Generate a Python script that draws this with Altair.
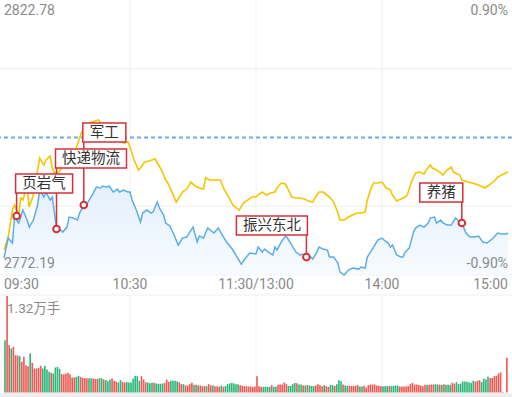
import altair as alt
import pandas as pd

# ---------------- data ----------------
price_top = 2822.78
price_bottom = 2772.19
pct_top_label = "0.90%"
pct_bottom_label = "-0.90%"
time_ticks = [0, 60, 120, 180, 240]
time_labels = ["09:30", "10:30", "11:30/13:00", "14:00", "15:00"]
vol_max = 13200
vol_max_label = "1.32万手"

blue_minutes = [
    0, 2, 4, 5, 7, 9, 11, 12, 14, 16,
    17, 19, 20, 22, 23, 25, 27, 28, 30, 31,
    33, 35, 36, 38, 40, 42, 44, 46, 47, 49,
    50, 52, 54, 55, 57, 59, 60, 61, 63, 65,
    66, 68, 70, 71, 73, 74, 76, 77, 79, 81,
    83, 85, 87, 90, 92, 93, 95, 97, 100, 102,
    104, 106, 109, 111, 113, 115, 117, 120, 121, 123,
    124, 126, 128, 129, 130, 132, 134, 135, 137, 139,
    141, 142, 144, 146, 147, 149, 150, 152, 154, 155,
    157, 159, 160, 162, 164, 166, 169, 170, 172, 173,
    176, 178, 180, 181, 183, 184, 185, 187, 189, 190,
    191, 193, 195, 196, 198, 200, 202, 203, 205, 206,
    208, 209, 211, 213, 215, 216, 218, 220, 222, 224,
    226, 228, 230, 233, 235, 237, 239, 240,
]
blue_prices = [
    2775.31, 2778.99, 2778.07, 2782.85, 2781.75, 2784.14, 2782.30, 2781.01, 2782.30, 2785.06,
    2787.82, 2786.53, 2787.45, 2785.98, 2786.53, 2780.83, 2780.46, 2780.09, 2781.01, 2782.85,
    2782.67, 2782.30, 2783.59, 2785.06, 2785.61, 2786.90, 2788.37, 2788.19, 2788.56, 2788.37,
    2788.56, 2787.45, 2788.00, 2787.45, 2787.82, 2787.45, 2787.45, 2785.98, 2784.14, 2781.93,
    2783.59, 2784.14, 2783.59, 2783.77, 2785.61, 2784.51, 2783.22, 2781.75, 2781.20, 2779.54,
    2777.70, 2778.99, 2779.17, 2781.01, 2778.25, 2779.36, 2778.99, 2780.83, 2779.91, 2780.83,
    2779.54, 2778.25, 2776.78, 2775.49, 2774.20, 2775.31, 2776.23, 2776.05, 2777.33, 2776.41,
    2776.96, 2776.41, 2775.86, 2777.33, 2776.78, 2778.25, 2779.36, 2778.99, 2777.70, 2776.41,
    2775.86, 2776.05, 2775.49, 2775.49, 2775.12, 2776.41, 2777.33, 2776.96, 2776.78, 2775.49,
    2775.49, 2774.39, 2772.73, 2772.19, 2773.10, 2773.47, 2773.28, 2773.65, 2773.47, 2775.49,
    2777.33, 2778.62, 2778.99, 2778.62, 2778.07, 2777.33, 2777.70, 2775.86, 2775.49, 2775.49,
    2776.41, 2777.15, 2780.09, 2780.83, 2781.38, 2781.01, 2781.75, 2782.67, 2782.85, 2781.75,
    2782.30, 2781.75, 2781.38, 2781.38, 2782.67, 2782.30, 2781.75, 2779.91, 2779.17, 2779.17,
    2779.36, 2778.25, 2778.07, 2778.99, 2779.91, 2779.73, 2779.73, 2779.91,
]

yellow_minutes = [
    0, 2, 4, 5, 7, 8, 9, 11, 12, 14,
    16, 17, 19, 20, 22, 23, 24, 26, 28, 30,
    32, 34, 37, 39, 42, 45, 47, 49, 52, 55,
    57, 59, 60, 62, 64, 65, 67, 69, 72, 73,
    75, 77, 78, 80, 82, 83, 85, 87, 89, 91,
    93, 95, 96, 98, 99, 103, 105, 107, 109, 112,
    114, 116, 118, 120, 121, 123, 125, 127, 129, 130,
    132, 134, 135, 137, 139, 141, 143, 145, 147, 149,
    150, 152, 155, 157, 159, 160, 162, 164, 166, 168,
    170, 172, 173, 175, 176, 178, 180, 181, 182, 184,
    185, 187, 188, 191, 192, 194, 196, 198, 200, 201,
    203, 204, 206, 208, 209, 211, 213, 214, 217, 218,
    221, 223, 226, 229, 231, 234, 235, 237, 240,
]
yellow_prices = [
    2776.78, 2779.17, 2784.14, 2785.06, 2783.22, 2786.35, 2785.98, 2788.56, 2784.69, 2786.90,
    2791.50, 2793.71, 2792.42, 2793.34, 2794.08, 2791.87, 2790.95, 2791.13, 2792.05, 2792.97,
    2793.71, 2795.18, 2798.49, 2799.78, 2800.33, 2800.70, 2799.60, 2798.49, 2797.39, 2797.02,
    2796.47, 2796.65, 2795.73, 2793.34, 2791.50, 2791.87, 2792.97, 2793.16, 2793.52, 2792.79,
    2791.50, 2789.66, 2789.11, 2787.45, 2785.61, 2786.16, 2787.45, 2788.00, 2789.29, 2788.56,
    2788.19, 2788.00, 2790.03, 2789.66, 2789.66, 2789.66, 2787.82, 2786.53, 2785.06, 2784.14,
    2785.43, 2785.98, 2786.53, 2786.53, 2786.90, 2787.45, 2786.90, 2787.27, 2787.45, 2788.19,
    2789.11, 2788.92, 2788.19, 2786.53, 2786.35, 2786.35, 2786.16, 2785.80, 2785.61, 2786.90,
    2787.45, 2787.45, 2786.53, 2785.61, 2783.59, 2782.30, 2782.30, 2782.85, 2783.22, 2783.59,
    2783.59, 2783.77, 2785.98, 2788.37, 2789.11, 2789.11, 2789.29, 2788.74, 2788.19, 2787.82,
    2786.90, 2785.80, 2785.98, 2786.53, 2786.90, 2789.29, 2790.95, 2791.13, 2790.76, 2791.50,
    2792.42, 2791.87, 2791.50, 2790.95, 2790.58, 2791.50, 2792.05, 2791.13, 2790.58, 2789.66,
    2789.29, 2789.11, 2788.74, 2788.19, 2788.74, 2789.66, 2790.21, 2790.58, 2791.13,
]

volumes = [
    7160, 13200, 6475, 6020, 6250, 5100, 5060, 4970, 4200, 4880,
    3740, 3600, 5340, 4060, 3280, 3280, 3370, 3650, 3280, 3650,
    3150, 2830, 2690, 2600, 3420, 3510, 3240, 2510, 2460, 2600,
    2690, 2510, 2050, 2050, 2140, 2280, 2140, 2000, 1960, 1960,
    1960, 1960, 1915, 1870, 1870, 1960, 1960, 1780, 1690, 1550,
    1780, 1915, 1600, 1500, 1370, 1690, 1460, 1370, 1410, 1370,
    1370, 1915, 2280, 2230, 1600, 2230, 1780, 1410, 1370, 1280,
    1320, 1320, 1230, 1190, 1190, 1230, 1320, 1780, 1460, 1600,
    1600, 1600, 1500, 1410, 1140, 1140, 960, 960, 1140, 1320,
    1050, 1050, 960, 960, 870, 870, 870, 1140, 960, 960,
    870, 870, 780, 960, 780, 870, 1140, 1230, 1320, 1230,
    1140, 1140, 1000, 910, 870, 870, 820, 820, 730, 820,
    2230, 870, 780, 780, 780, 780, 780, 1000, 780, 780,
    1050, 1090, 1090, 1370, 1140, 910, 910, 1140, 1320, 1280,
    1090, 1090, 960, 960, 1000, 960, 910, 870, 960, 1140,
    1000, 870, 1000, 870, 780, 1050, 1000, 910, 1140, 1690,
    1550, 1090, 960, 910, 910, 910, 910, 910, 1000, 820,
    820, 910, 680, 1000, 1090, 1090, 1090, 960, 910, 870,
    870, 870, 870, 870, 870, 910, 960, 960, 820, 820,
    820, 820, 870, 1140, 1320, 1090, 1090, 1050, 960, 870,
    1050, 1050, 1050, 1090, 1090, 1140, 1090, 1090, 1050, 1140,
    1050, 1050, 1050, 1320, 1230, 1410, 1140, 1230, 1500, 1500,
    1460, 1410, 1320, 1600, 1500, 1600, 1690, 1410, 1915, 1780,
    2140, 1960, 2000, 2230, 2280, 2600, 2740, 90, 0, 4740,
]
volume_dirs = (
    "grrgrrrgrr" "rrgrrrrrgg" "ggrggggrrr" "rrrrggrrrr" "ggrrrggrgg" "grrrggrrgg"
    "gggggrrrgg" "grggggrrrg" "gggrrgrrrr" "grgrrrgrrg" "rrrgrggggg" "ggrrrrrrrr"
    "rrrggggrgg" "rrrrrggggr" "ggrgrgggrr" "rrgrrggrgg" "grggrrrrrg" "grrrrrrrrr"
    "gggrggggrr" "rrrrrrrrrr" "rgrrrggrgr" "gggrrggggg" "ggggrrrggg" "grrrrrrggr"
)

ann_labels = ["页岩气", "快递物流", "军工", "振兴东北", "养猪"]
ann_minutes = [6, 25, 38, 144, 218]
ann_prices = [2783.04, 2780.65, 2785.06, 2775.49, 2781.75]

assert len(blue_minutes) == len(blue_prices)
assert len(yellow_minutes) == len(yellow_prices)
assert len(volumes) == len(volume_dirs)

# ---------------- layout / style ----------------
W, H = 512, 397
X0, PPM = 4.0, 2.1
PANEL_H = 275.0
SEP_Y = 295
VOL_TOP, VOL_BOT = 296.0, 392.5
STRIP_Y = 393

ann_side = ["right", "right", "right", "left", "left"]
ann_rise = [23, 61, 63, 22, 21]
BOX_H = 19

RED_ANN = "#d6303a"
BLUE = "#5aaee8"
YELLOW = "#f3c600"
DASH = "#73a9ea"
GRID = "#efefef"
LABEL = "#8a8a8a"
VRED = "#ee5b55"
VGREEN = "#2db679"
FONT = "Roboto, 'Noto Sans CJK SC', sans-serif"
CJK = "'Noto Sans CJK SC', sans-serif"

xs = alt.Scale(domain=[-X0 / PPM, (W - X0) / PPM], nice=False, zero=False)
pp = (price_top - price_bottom) / PANEL_H
ps = alt.Scale(domain=[price_top - H * pp, price_top], nice=False, zero=False)
vp = vol_max / (VOL_BOT - VOL_TOP)
vs = alt.Scale(domain=[-(H - VOL_BOT) * vp, vol_max + VOL_TOP * vp], nice=False, zero=False)


def X(f):
    return alt.X(f, type="quantitative", scale=xs, axis=None)


def PY(f):
    return alt.Y(f, type="quantitative", scale=ps, axis=None)


def VY(f):
    return alt.Y(f, type="quantitative", scale=vs, axis=None)


one = pd.DataFrame({"a": [0]})
prev_close = (price_top + price_bottom) / 2
q = (price_top - price_bottom) / 4

layers = []

# grid lines
hgrid = pd.DataFrame({"p": [price_top - q, price_top - 3 * q, price_bottom]})
layers.append(alt.Chart(hgrid).mark_rule(color=GRID, strokeWidth=1).encode(y=PY("p")))
layers.append(alt.Chart(one).mark_rule(color=GRID, strokeWidth=1).encode(y=alt.value(SEP_Y)))
vgrid = pd.DataFrame({"t": time_ticks[1:-1]})
layers.append(alt.Chart(vgrid).mark_rule(color=GRID, strokeWidth=1).encode(
    x=X("t"), y=alt.value(0), y2=alt.value(PANEL_H)))
layers.append(alt.Chart(vgrid).mark_rule(color=GRID, strokeWidth=1).encode(
    x=X("t"), y=alt.value(SEP_Y), y2=alt.value(STRIP_Y)))

# price area + lines
blue_df = pd.DataFrame({"t": blue_minutes, "p": blue_prices, "base": price_bottom})
yellow_df = pd.DataFrame({"t": yellow_minutes, "p": yellow_prices})
grad = alt.Gradient(
    gradient="linear",
    stops=[alt.GradientStop(color="#e4f0fc", offset=0),
           alt.GradientStop(color="#f7fbff", offset=1)],
    x1=1, x2=1, y1=0, y2=1,
)
layers.append(alt.Chart(blue_df).mark_area(color=grad).encode(
    x=X("t"), y=PY("p"), y2=alt.Y2("base")))

pc_df = pd.DataFrame({"p": [prev_close]})
layers.append(alt.Chart(pc_df).mark_rule(color=DASH, strokeWidth=1.8, strokeDash=[4, 3]).encode(
    y=PY("p")))

layers.append(alt.Chart(yellow_df).mark_line(color=YELLOW, strokeWidth=1.6).encode(
    x=X("t"), y=PY("p")))
layers.append(alt.Chart(blue_df).mark_line(color=BLUE, strokeWidth=1.5).encode(
    x=X("t"), y=PY("p")))

# volume bars
vol_df = pd.DataFrame({
    "i": range(len(volumes)),
    "v": volumes,
    "d": list(volume_dirs),
})
vol_df["t0"] = vol_df["i"] + 0.08
vol_df["t1"] = vol_df["i"] + 0.86
vol_df["z"] = 0
layers.append(alt.Chart(vol_df).mark_rect().encode(
    x=X("t0"), x2=alt.X2("t1"), y=VY("v"), y2=alt.Y2("z"),
    color=alt.Color("d:N", scale=alt.Scale(domain=["r", "g"], range=[VRED, VGREEN]), legend=None),
))

# bottom strip
layers.append(alt.Chart(one).mark_rect(color="#eeeeee").encode(
    x=alt.value(0), x2=alt.value(W), y=alt.value(STRIP_Y), y2=alt.value(H)))

# axis-like labels
def label_layer(text, x_px, y_px, align, size=14):
    df = pd.DataFrame({"s": [text]})
    return alt.Chart(df).mark_text(align=align, baseline="middle", fontSize=size,
                                   font=FONT, color=LABEL).encode(
        x=alt.value(x_px), y=alt.value(y_px), text="s:N")

layers.append(label_layer(f"{price_top:.2f}", 4, 11, "left"))
layers.append(label_layer(pct_top_label, 508, 11, "right"))
layers.append(label_layer(f"{price_bottom:.2f}", 4, 264, "left"))
layers.append(label_layer(pct_bottom_label, 508, 264, "right"))
layers.append(label_layer(vol_max_label, 7, 309, "left", 13.5))

tick_df = pd.DataFrame({"t": time_ticks, "s": time_labels, "k": range(len(time_ticks))})
for cond, align in [("datum.k == 0", "left"),
                    (f"datum.k > 0 && datum.k < {len(time_ticks) - 1}", "center"),
                    (f"datum.k == {len(time_ticks) - 1}", "right")]:
    layers.append(alt.Chart(tick_df).transform_filter(cond).mark_text(
        align=align, baseline="middle", fontSize=14, font=FONT, color=LABEL).encode(
        x=X("t"), y=alt.value(285), text="s:N"))

# annotations
ann_df = pd.DataFrame({"label": ann_labels, "t": ann_minutes, "p": ann_prices})
rule_layers, point_layers, box_layers = [], [], []
for k in range(len(ann_labels)):
    row = ann_df.iloc[[k]]
    w = 14 * len(ann_labels[k]) + 15
    if ann_side[k] == "right":
        dx0, dx1 = -1, w - 1
    else:
        dx0, dx1 = -(w - 1), 1
    rise = ann_rise[k]
    rule_layers.append(alt.Chart(row).mark_rule(
        color=RED_ANN, strokeWidth=1.5, yOffset=-4, y2Offset=-rise).encode(
        x=X("t"), y=PY("p"), y2=alt.Y2("p")))
    point_layers.append(alt.Chart(row).mark_point(
        shape="circle", filled=True, fill="white", stroke=RED_ANN, strokeWidth=2,
        size=44, opacity=1).encode(x=X("t"), y=PY("p")))
    box_layers.append(alt.Chart(row).mark_rect(
        fill="white", stroke=RED_ANN, strokeWidth=1.5,
        xOffset=dx0, x2Offset=dx1, yOffset=-(rise + BOX_H), y2Offset=-rise).encode(
        x=X("t"), x2=alt.X2("t"), y=PY("p"), y2=alt.Y2("p")))
    box_layers.append(alt.Chart(row).mark_text(
        align="center", baseline="middle", fontSize=14.5, font=CJK, color="#333333",
        dx=(dx0 + dx1) / 2, dy=-(rise + BOX_H / 2)).encode(
        x=X("t"), y=PY("p"), text="label:N"))

layers += rule_layers + point_layers + box_layers

chart = alt.layer(*layers).resolve_scale(y="independent").properties(
    width=W, height=H, padding=0, autosize=alt.AutoSizeParams(type="none"),
    background="white",
).configure_view(stroke=None)

chart.save("out.html", embed_options={"renderer": "svg", "actions": False})
